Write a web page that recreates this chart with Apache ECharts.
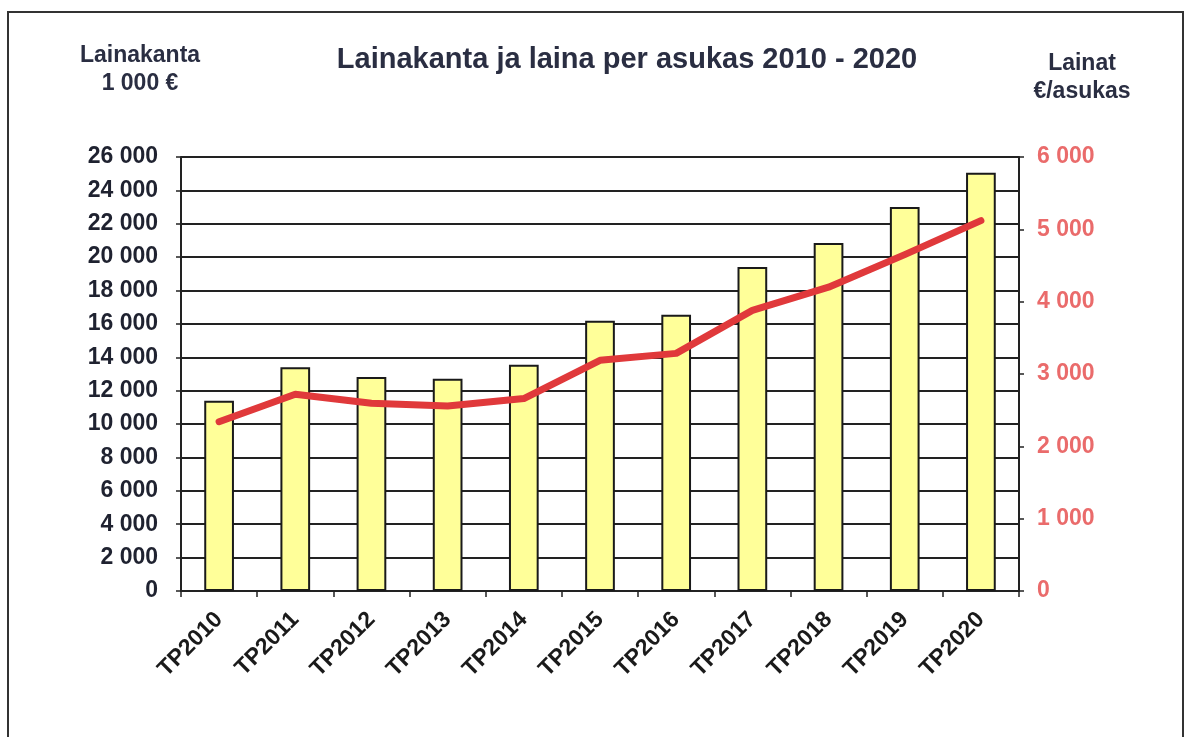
<!DOCTYPE html>
<html><head><meta charset="utf-8">
<script src="https://cdn.jsdelivr.net/npm/echarts@6/dist/echarts.min.js"></script>
<style>html,body{margin:0;padding:0;background:#fff}#c{width:1190px;height:737px}</style>
</head><body><div id="c"></div>
<script>
var categories = ['TP2010','TP2011','TP2012','TP2013','TP2014','TP2015','TP2016','TP2017','TP2018','TP2019','TP2020'];
var lainakanta = [11400, 13400, 12820, 12720, 13560, 16190, 16550, 19410, 20850, 23000, 25060];
var lainatPerAsukas = [2340, 2720, 2595, 2558, 2660, 3190, 3285, 3880, 4200, 4650, 5120];
var title = 'Lainakanta ja laina per asukas 2010 - 2020';
var leftName = 'Lainakanta\n1 000 €';
var rightName = 'Lainat\n€/asukas';

function fmt(v){ return String(v).replace(/\B(?=(\d{3})+(?!\d))/g, ' '); }
var FONT = 'Liberation Sans, Arial, sans-serif';
var chart = echarts.init(document.getElementById('c'));
chart.setOption({
  animation: false,
  backgroundColor: '#fff',
  graphic: [{ type: 'rect', shape: { x: 8, y: 12, width: 1175, height: 760 }, style: { fill: 'none', stroke: '#333', lineWidth: 2 } },
    { type: 'text', x: 140, y: 42, style: { text: leftName, font: 'bold 23px ' + FONT, fill: '#2a2e42', align: 'center', lineHeight: 28 } },
    { type: 'text', x: 1082, y: 50, style: { text: rightName, font: 'bold 23px ' + FONT, fill: '#2a2e42', align: 'center', lineHeight: 28 } }
  ],
  title: { text: title, left: 622, top: 40, textAlign: 'center', textStyle: { fontFamily: FONT, fontWeight: 'bold', fontSize: 29, color: '#2a2e42' } },
  grid: { left: 181, right: 171, top: 157, bottom: 146, containLabel: false },
  xAxis: {
    type: 'category', data: categories,
    axisLine: { lineStyle: { color: '#222', width: 2 } },
    axisTick: { show: true, alignWithLabel: false, length: 6, lineStyle: { color: '#222', width: 1.5 } },
    axisLabel: { rotate: 45, margin: 25, fontFamily: FONT, fontWeight: 'bold', fontSize: 23, color: '#1a1a1a' }
  },
  yAxis: [
    { type: 'value', min: 0, max: 26000, interval: 2000,
      axisLine: { show: true, lineStyle: { color: '#222', width: 2 } },
      axisTick: { show: true, length: 5, lineStyle: { color: '#222', width: 1.5 } },
      splitLine: { show: true, lineStyle: { color: '#222', width: 2 } },
      axisLabel: { formatter: fmt, fontFamily: FONT, fontWeight: 'bold', fontSize: 23, color: '#1f2230', margin: 23 } },
    { type: 'value', min: 0, max: 6000, interval: 1000, position: 'right',
      axisLine: { show: true, lineStyle: { color: '#222', width: 2 } },
      axisTick: { show: true, length: 5, lineStyle: { color: '#222', width: 1.5 } },
      splitLine: { show: false },
      axisLabel: { formatter: fmt, fontFamily: FONT, fontWeight: 'bold', fontSize: 23, color: '#ea6b6b', margin: 18 } }
  ],
  series: [
    { type: 'bar', data: lainakanta, yAxisIndex: 0, barWidth: '39%',
      itemStyle: { color: '#ffff99', borderColor: '#1a1a1a', borderWidth: 2 } },
    { type: 'line', data: lainatPerAsukas, yAxisIndex: 1, symbol: 'none', smooth: false,
      lineStyle: { color: '#e0393b', width: 7, cap: 'round', join: 'round' } }
  ]
});
</script></body></html>
